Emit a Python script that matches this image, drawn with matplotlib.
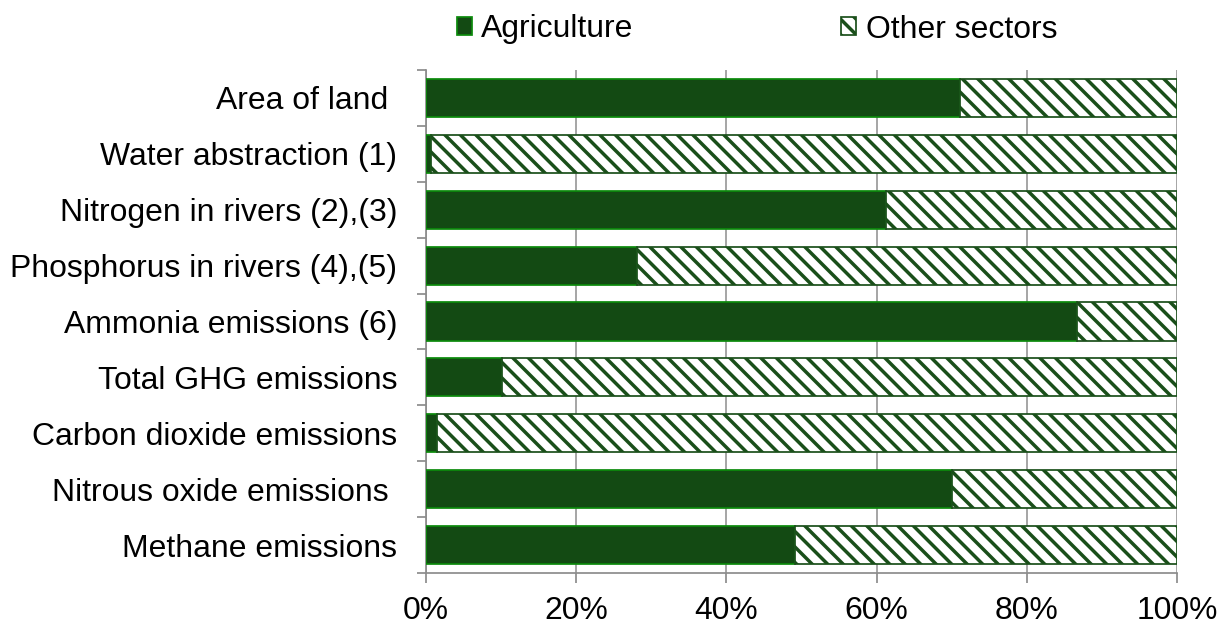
import matplotlib
matplotlib.use("Agg")
import matplotlib.pyplot as plt
import numpy as np
from matplotlib.ticker import FixedLocator, PercentFormatter

categories = [
    "Area of land ",
    "Water abstraction (1)",
    "Nitrogen in rivers (2),(3)",
    "Phosphorus in rivers (4),(5)",
    "Ammonia emissions (6)",
    "Total GHG emissions",
    "Carbon dioxide emissions",
    "Nitrous oxide emissions ",
    "Methane emissions",
]
agriculture = [71.1, 0.7, 61.2, 28.1, 86.7, 10.1, 1.5, 70.0, 49.2]
other_sectors = [100 - a for a in agriculture]
x_ticks = [0, 20, 40, 60, 80, 100]

DPI = 93
k = 125 / DPI
plt.rcParams['font.family'] = ['Liberation Sans', 'DejaVu Sans']
plt.rcParams['hatch.linewidth'] = 2.7

fig = plt.figure(figsize=(1221 / DPI, 624 / DPI), dpi=DPI)
ax = fig.add_axes([426 / 1221, 51 / 624, 751 / 1221, 503 / 624])

dark = "#134a13"
edge_bright = "#0b8a0b"
hatch_col = "#1a4f1a"

y = np.arange(len(categories))
h1 = ax.barh(y, agriculture, height=0.68, color=dark, edgecolor=edge_bright,
             linewidth=1.0 * k, label="Agriculture", zorder=3)
h2 = ax.barh(y, other_sectors, left=agriculture, height=0.68, color="white",
             edgecolor=hatch_col, hatch="\\\\", linewidth=1.0 * k,
             label="Other sectors", zorder=3)

ax.set_xlim(0, 100)
ax.set_ylim(len(categories) - 0.5, -0.5)
ax.set_xticks(x_ticks)
ax.xaxis.set_major_formatter(PercentFormatter(decimals=0))
ax.set_yticks(y)
ax.set_yticklabels(categories)
ax.yaxis.set_minor_locator(FixedLocator(np.arange(-0.5, len(categories), 1.0)))

fs = 18.4 * k
ax.tick_params(axis='y', which='major', length=0, pad=16.5 * k, labelsize=fs)
ax.tick_params(axis='y', which='minor', length=5.2 * k, width=1.0 * k, color="#8c8c8c")
ax.tick_params(axis='x', which='major', length=5.6 * k, width=1.0 * k, color="#8c8c8c",
               pad=7.5 * k, labelsize=fs)

ax.grid(axis='x', color="#9a9a9a", linewidth=1.0 * k, zorder=0)
ax.set_axisbelow(True)
for s in ['top', 'right']:
    ax.spines[s].set_visible(False)
for s in ['left', 'bottom']:
    ax.spines[s].set_color("#8c8c8c")
    ax.spines[s].set_linewidth(1.0 * k)

fig.legend(handles=[h1, h2], labels=["Agriculture", "Other sectors"],
           loc='center', bbox_to_anchor=(757 / 1221, 1 - 29.5 / 624), ncol=2,
           frameon=False, fontsize=fs, handlelength=0.47, handleheight=0.47,
           handletextpad=0.3, columnspacing=6.5, borderaxespad=0)

fig.savefig("out.png", dpi=DPI)
